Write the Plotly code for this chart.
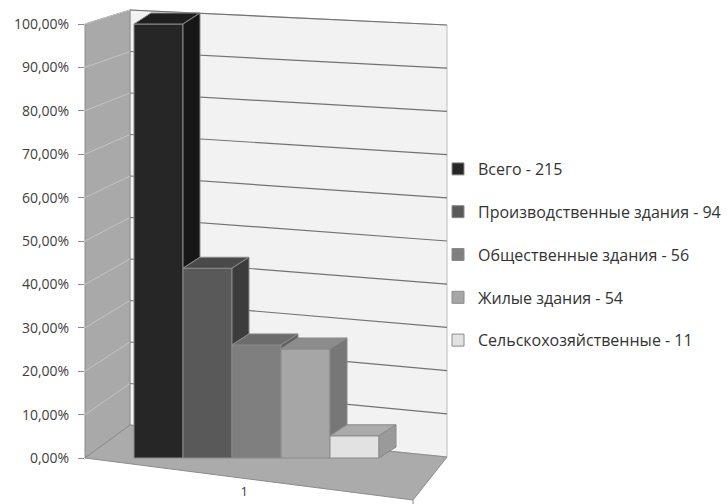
import plotly.graph_objects as go

# ---- data ----
series_names = ["Всего - 215", "Производственные здания - 94", "Общественные здания - 56",
                "Жилые здания - 54", "Сельскохозяйственные - 11"]
series_values = [100.00, 43.72, 26.05, 25.12, 5.12]   # percent of total
category_labels = ["1"]
y_tick_values = [0, 10, 20, 30, 40, 50, 60, 70, 80, 90, 100]
y_tick_labels = ["0,00%", "10,00%", "20,00%", "30,00%", "40,00%", "50,00%",
                 "60,00%", "70,00%", "80,00%", "90,00%", "100,00%"]

# ---- styles ----
front_colors = ["#262626", "#595959", "#7f7f7f", "#a6a6a6", "#e2e2e2"]
top_colors = ["#1e1e1e", "#4a4a4a", "#6c6c6c", "#8c8c8c", "#ababab"]
side_colors = ["#171717", "#3c3c3c", "#606060", "#777777", "#9a9a9a"]
edge = "#8a8a8a"

W, H = 727, 504
L_PX, R_PX, T_PX, B_PX = 85, 447, 4, 482
PW, PH = R_PX - L_PX, B_PX - T_PX
Y0_PX, Y100_PX = 458, 24
SY = (Y0_PX - Y100_PX) / 100.0
SX = 49.0
BAR0_LEFT_PX = 134
xmin = -0.5 - (BAR0_LEFT_PX - L_PX) / SX
xmax = xmin + PW / SX
ymax = (Y0_PX - T_PX) / SY
ymin = -(B_PX - Y0_PX) / SY
DX = 17 / SX
DY = 11 / SY


def px(xp, yp):
    return (xp - L_PX) / PW, (B_PX - yp) / PH


fig = go.Figure()


def poly(points, fill, line=edge, width=1):
    path = ""
    for i, (xp, yp) in enumerate(points):
        a, b = px(xp, yp)
        path += ("M" if i == 0 else "L") + f"{a:.5f},{b:.5f} "
    path += "Z"
    fig.add_shape(type="path", path=path, xref="paper", yref="paper",
                  fillcolor=fill, line=dict(color=line, width=width), layer="below")


def seg(p1, p2, color, width=1):
    a, b = px(*p1)
    c, d = px(*p2)
    fig.add_shape(type="line", x0=a, y0=b, x1=c, y1=d, xref="paper", yref="paper",
                  line=dict(color=color, width=width), layer="below")


# walls / floor (decoration)
front_bl, front_tl = (85, 458), (85, 24)
back_bl, back_tl = (130, 425), (130, 10)
back_br, back_tr = (447, 457), (447, 25)
front_br = (413, 500)

poly([back_bl, back_tl, back_tr, back_br], "#f2f2f2", line="#bdbdbd")
poly([front_bl, front_tl, back_tl, back_bl], "#a9a9a9", line="#8c8c8c")
poly([front_bl, back_bl, back_br, front_br], "#ababab", line="#8c8c8c")
seg(front_br, (413, 504), "#8c8c8c")

for v in y_tick_values[1:]:
    f = v / 100.0
    yf = front_bl[1] + (front_tl[1] - front_bl[1]) * f
    ybl = back_bl[1] + (back_tl[1] - back_bl[1]) * f
    ybr = back_br[1] + (back_tr[1] - back_br[1]) * f
    seg((85, yf), (130, ybl), "#c4c4c4")
    seg((130, ybl), (447, ybr), "#737373", 1.2)

# front faces (real bars)
for i, (name, val) in enumerate(zip(series_names, series_values)):
    fig.add_trace(go.Bar(
        x=[i], y=[val], width=1, name=name, legendgroup=str(i),
        marker=dict(color=front_colors[i], line=dict(color=edge, width=1)),
        hoverinfo="skip"))

# 3D top and side faces, derived from values
n = len(series_values)
for i, val in enumerate(series_values):
    left, right = i - 0.5, i + 0.5
    fig.add_trace(go.Scatter(
        x=[left, right, right + DX, left + DX, left],
        y=[val, val, val + DY, val + DY, val],
        mode="lines", fill="toself", fillcolor=top_colors[i],
        line=dict(color=edge, width=1), showlegend=False, hoverinfo="skip"))
    low = series_values[i + 1] if i < n - 1 else 0
    fig.add_trace(go.Scatter(
        x=[right, right, right + DX, right + DX, right],
        y=[low, val, val + DY, low + DY, low],
        mode="lines", fill="toself", fillcolor=side_colors[i],
        line=dict(color=edge, width=1), showlegend=False, hoverinfo="skip"))

fig.update_layout(
    width=W, height=H,
    margin=dict(l=L_PX, r=W - R_PX, t=T_PX, b=H - B_PX, autoexpand=False),
    paper_bgcolor="white", plot_bgcolor="rgba(0,0,0,0)",
    font=dict(family="Open Sans", color="#404040"),
    barmode="overlay",
    showlegend=True,
    legend=dict(x=(438 - L_PX) / PW, xanchor="left", y=(B_PX - 152) / PH, yanchor="top",
                font=dict(size=16, color="#333333"), tracegroupgap=19,
                bgcolor="rgba(0,0,0,0)", traceorder="grouped"),
)
fig.update_xaxes(range=[xmin, xmax], showgrid=False, zeroline=False, showline=False,
                 tickvals=[1.75], ticktext=category_labels, ticks="",
                 tickfont=dict(size=13, color="#404040"))
fig.update_yaxes(range=[ymin, ymax], showgrid=False, zeroline=False, showline=False,
                 tickvals=y_tick_values, ticktext=y_tick_labels, ticks="outside",
                 ticklen=6, tickcolor="#8c8c8c", ticklabelstandoff=6,
                 tickfont=dict(size=14, color="#404040"))

fig.write_html("out.html")
